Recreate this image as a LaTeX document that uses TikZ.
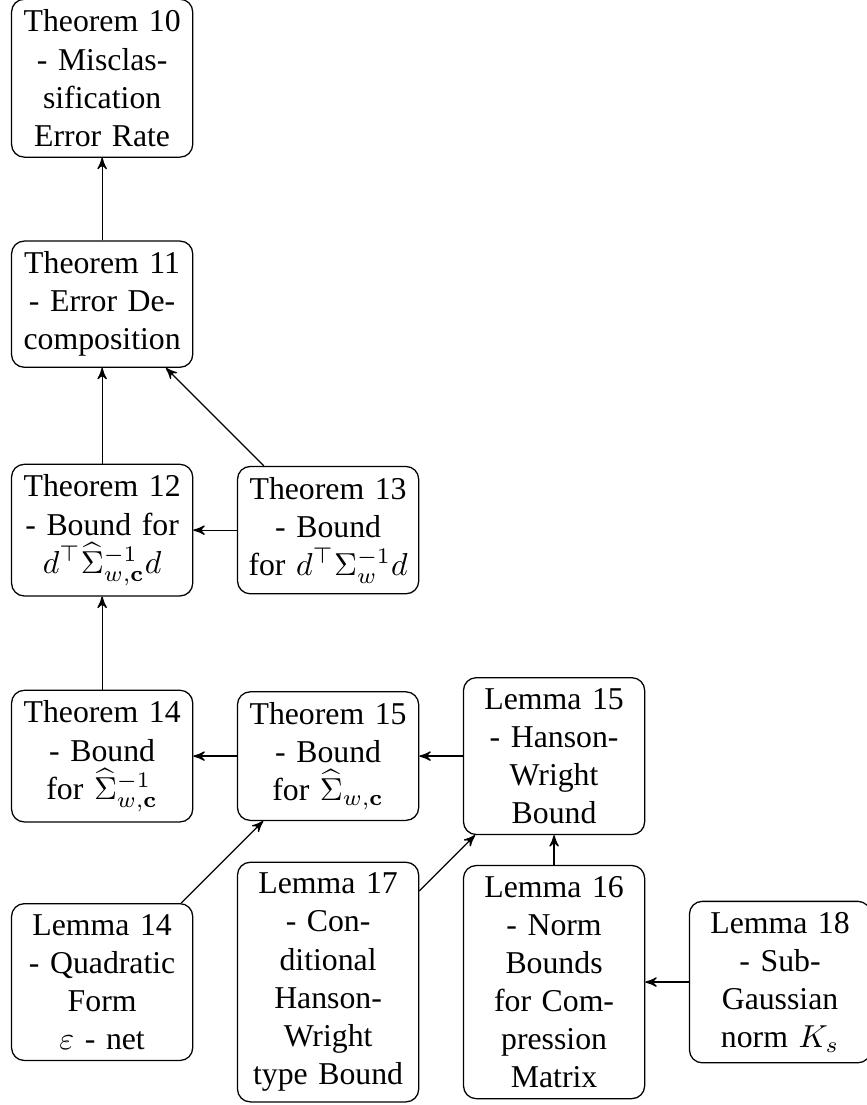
\documentclass[tikz,border=0pt]{standalone}
\usepackage{amssymb, amsmath}
\usepackage[no-math]{fontspec}
\setmainfont{Liberation Serif}
\usetikzlibrary{arrows}

\begin{document}
\begin{tikzpicture}[box/.style={draw, rounded corners, text width=1.77cm, align=center}, >=stealth']
    \useasboundingbox (-1.13,0.865) rectangle (8.46,-11.36);
    % theorems
    \node[box] (thm10) at (0,0) {Theorem 10\\ - Misclas-\\ sification\\ Error Rate};
    \node[box] (thm11) at (0,-2.5) {Theorem 11\\ - Error De-\\ composition};
    \node[box] (thm12) at (0,-5) {Theorem 12\\ - Bound for\\ $d^\top\widehat{\Sigma}_{w,\mathbf{c}}^{-1}d$};
    \node[box] (thm13) at (2.5,-5) {Theorem 13\\ - Bound\\ for $d^\top\Sigma_w^{-1}d$};
    \node[box] (thm14) at (0,-7.5) {Theorem 14\\ - Bound\\ for $\widehat{\Sigma}_{w,\mathbf{c}}^{-1}$};
    \node[box] (thm15) at (2.5,-7.5) {Theorem 15\\ - Bound\\ for $\widehat{\Sigma}_{w,\mathbf{c}}$};
    % lemmas
    \node[box] (lem15) at (5,-7.5) {Lemma 15\\ - Hanson-\\ Wright\\ Bound};
    \node[box] (lem14) at (0,-10) {Lemma 14\\ - Quadratic\\ Form\\ $\varepsilon$ - net};
    \node[box] (lem17) at (2.5,-10) {Lemma 17\\ - Con-\\ ditional\\ Hanson-\\ Wright\\ type Bound};
    \node[box] (lem16) at (5,-10) {Lemma 16\\ - Norm\\ Bounds\\ for Com-\\ pression\\ Matrix};
    \node[box] (lem18) at (7.5,-10) {Lemma 18\\ - Sub-\\ Gaussian\\ norm $K_s$};
    % dependencies
    \draw[->] (thm11) -- (thm10);
    \draw[->] (thm12) -- (thm11);
    \draw[->] (thm13) -- (thm11);
    \draw[->] (thm13) -- (thm12);
    \draw[->] (thm14) -- (thm12);
    \draw[->] (thm15) -- (thm14);
    \draw[->] (lem15) -- (thm15);
    \draw[->] (lem14) -- (thm15);
    \draw[->] (lem17) -- (lem15);
    \draw[->] (lem16) -- (lem15);
    \draw[->] (lem18) -- (lem16);
\end{tikzpicture}
\end{document}
